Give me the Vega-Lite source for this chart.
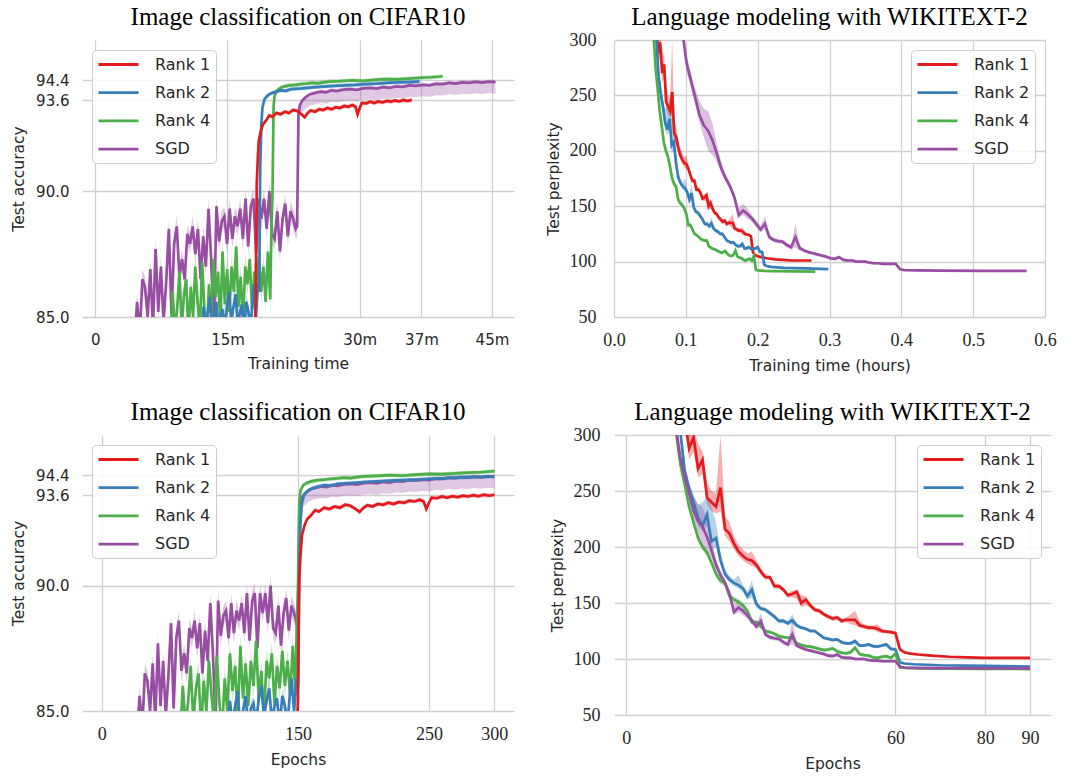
{
"$schema": "https://vega.github.io/schema/vega-lite/v6.json",
"background": "white",
"padding": {"left": 11, "top": 5, "right": 0, "bottom": 0},
"config": {
 "view": {"stroke": null},
 "axis": {"grid": true, "gridColor": "#d0d0d0", "gridWidth": 1.3, "domain": false, "ticks": false, "labelFont": "DejaVu Sans", "labelFontSize": 15, "labelColor": "#262626", "titleFont": "DejaVu Sans", "titleFontSize": 15.5, "titleFontWeight": "normal", "titleColor": "#262626", "labelFlush": false, "labelOverlap": false},
 "title": {"font": "Liberation Serif", "fontSize": 25, "fontWeight": "normal", "color": "#000000", "anchor": "middle", "frame": "group"},
 "legend": {"offset": 10, "symbolType": "M-1,0H4", "symbolSize": 256, "symbolStrokeWidth": 2.8, "labelFont": "DejaVu Sans", "labelFontSize": 16, "labelColor": "#262626", "labelOffset": 39, "padding": 5, "rowPadding": 10.2, "strokeColor": "#cccccc", "fillColor": "rgba(255,255,255,0.85)", "cornerRadius": 4}
},
"datasets": {
"acc": [
{"s":"SGD","e":27,"t":4.45,"y":84.0,"lo":83.6,"hi":84.4},
{"s":"SGD","e":29,"t":4.75,"y":85.6,"lo":85.2,"hi":86.0},
{"s":"SGD","e":31,"t":5.05,"y":84.3,"lo":83.9,"hi":84.7},
{"s":"SGD","e":33,"t":5.35,"y":86.5,"lo":86.1,"hi":86.9},
{"s":"SGD","e":35,"t":5.65,"y":86.2,"lo":85.8,"hi":86.6},
{"s":"SGD","e":37,"t":5.95,"y":85.0,"lo":84.6,"hi":85.4},
{"s":"SGD","e":39,"t":6.25,"y":86.9,"lo":86.5,"hi":87.3},
{"s":"SGD","e":41,"t":6.55,"y":84.6,"lo":84.2,"hi":85.0},
{"s":"SGD","e":43,"t":6.85,"y":87.7,"lo":87.3,"hi":88.1},
{"s":"SGD","e":45,"t":7.15,"y":85.2,"lo":84.8,"hi":85.6},
{"s":"SGD","e":47,"t":7.45,"y":87.0,"lo":86.6,"hi":87.4},
{"s":"SGD","e":49,"t":7.75,"y":84.8,"lo":84.4,"hi":85.2},
{"s":"SGD","e":51,"t":8.05,"y":86.4,"lo":86.0,"hi":86.8},
{"s":"SGD","e":53,"t":8.35,"y":88.5,"lo":88.1,"hi":88.9},
{"s":"SGD","e":55,"t":8.65,"y":85.1,"lo":84.7,"hi":85.5},
{"s":"SGD","e":57,"t":8.95,"y":87.9,"lo":87.5,"hi":88.3},
{"s":"SGD","e":59,"t":9.25,"y":88.6,"lo":88.2,"hi":89.0},
{"s":"SGD","e":61,"t":9.55,"y":86.6,"lo":86.2,"hi":87.0},
{"s":"SGD","e":63,"t":9.85,"y":87.3,"lo":86.9,"hi":87.7},
{"s":"SGD","e":65,"t":10.15,"y":86.5,"lo":86.1,"hi":86.9},
{"s":"SGD","e":67,"t":10.45,"y":88.3,"lo":87.9,"hi":88.7},
{"s":"SGD","e":69,"t":10.75,"y":87.9,"lo":87.5,"hi":88.3},
{"s":"SGD","e":71,"t":11.05,"y":88.6,"lo":88.2,"hi":89.0},
{"s":"SGD","e":73,"t":11.35,"y":87.5,"lo":87.1,"hi":87.9},
{"s":"SGD","e":75,"t":11.65,"y":88.5,"lo":88.1,"hi":88.9},
{"s":"SGD","e":77,"t":11.95,"y":86.5,"lo":86.1,"hi":86.9},
{"s":"SGD","e":79,"t":12.25,"y":88.2,"lo":87.8,"hi":88.6},
{"s":"SGD","e":81,"t":12.55,"y":87.0,"lo":86.6,"hi":87.4},
{"s":"SGD","e":83,"t":12.85,"y":89.3,"lo":88.9,"hi":89.7},
{"s":"SGD","e":85,"t":13.15,"y":87.3,"lo":86.9,"hi":87.7},
{"s":"SGD","e":87,"t":13.45,"y":84.5,"lo":84.1,"hi":84.9},
{"s":"SGD","e":89,"t":13.75,"y":89.4,"lo":89.0,"hi":89.8},
{"s":"SGD","e":91,"t":14.05,"y":88.0,"lo":87.6,"hi":88.4},
{"s":"SGD","e":93,"t":14.35,"y":88.8,"lo":88.4,"hi":89.2},
{"s":"SGD","e":95,"t":14.65,"y":89.0,"lo":88.6,"hi":89.4},
{"s":"SGD","e":97,"t":14.95,"y":87.9,"lo":87.5,"hi":88.3},
{"s":"SGD","e":99,"t":15.25,"y":89.3,"lo":88.9,"hi":89.7},
{"s":"SGD","e":101,"t":15.55,"y":88.1,"lo":87.7,"hi":88.5},
{"s":"SGD","e":103,"t":15.85,"y":89.0,"lo":88.6,"hi":89.4},
{"s":"SGD","e":105,"t":16.15,"y":88.6,"lo":88.2,"hi":89.0},
{"s":"SGD","e":107,"t":16.45,"y":89.3,"lo":88.9,"hi":89.7},
{"s":"SGD","e":109,"t":16.75,"y":88.1,"lo":87.7,"hi":88.5},
{"s":"SGD","e":111,"t":17.05,"y":89.7,"lo":89.3,"hi":90.1},
{"s":"SGD","e":113,"t":17.35,"y":87.8,"lo":87.4,"hi":88.2},
{"s":"SGD","e":115,"t":17.65,"y":89.4,"lo":89.0,"hi":89.8},
{"s":"SGD","e":117,"t":17.95,"y":89.7,"lo":89.3,"hi":90.1},
{"s":"SGD","e":119,"t":18.25,"y":87.5,"lo":87.1,"hi":87.9},
{"s":"SGD","e":121,"t":18.55,"y":89.7,"lo":89.3,"hi":90.1},
{"s":"SGD","e":123,"t":18.85,"y":88.9,"lo":88.5,"hi":89.3},
{"s":"SGD","e":125,"t":19.15,"y":89.7,"lo":89.3,"hi":90.1},
{"s":"SGD","e":127,"t":19.45,"y":88.5,"lo":88.1,"hi":88.9},
{"s":"SGD","e":129,"t":19.75,"y":90.0,"lo":89.6,"hi":90.4},
{"s":"SGD","e":131,"t":20.05,"y":88.3,"lo":87.9,"hi":88.7},
{"s":"SGD","e":133,"t":20.35,"y":88.1,"lo":87.7,"hi":88.5},
{"s":"SGD","e":135,"t":20.65,"y":89.2,"lo":88.8,"hi":89.6},
{"s":"SGD","e":137,"t":20.95,"y":87.6,"lo":87.2,"hi":88.0},
{"s":"SGD","e":139,"t":21.25,"y":88.9,"lo":88.5,"hi":89.3},
{"s":"SGD","e":141,"t":21.55,"y":89.5,"lo":89.1,"hi":89.9},
{"s":"SGD","e":143,"t":21.85,"y":88.2,"lo":87.8,"hi":88.6},
{"s":"SGD","e":145,"t":22.15,"y":89.2,"lo":88.8,"hi":89.6},
{"s":"SGD","e":147,"t":22.45,"y":88.9,"lo":88.5,"hi":89.3},
{"s":"SGD","e":149,"t":22.75,"y":88.5,"lo":88.1,"hi":88.9},
{"s":"SGD","e":150,"t":22.9,"y":88.6,"lo":88.2,"hi":89.0},
{"s":"SGD","e":151,"t":23.05,"y":93.0,"lo":92.6,"hi":93.1},
{"s":"SGD","e":152,"t":23.2,"y":93.4,"lo":93.0,"hi":93.5},
{"s":"SGD","e":154,"t":23.5,"y":93.6,"lo":93.15,"hi":93.68},
{"s":"SGD","e":157,"t":23.95,"y":93.75,"lo":93.3,"hi":93.83},
{"s":"SGD","e":160,"t":24.4,"y":93.85,"lo":93.4,"hi":93.93},
{"s":"SGD","e":164,"t":25.0,"y":93.9,"lo":93.45,"hi":93.98},
{"s":"SGD","e":168,"t":25.6,"y":93.95,"lo":93.5,"hi":94.03},
{"s":"SGD","e":172,"t":26.2,"y":93.92,"lo":93.47,"hi":94.0},
{"s":"SGD","e":176,"t":26.8,"y":94.0,"lo":93.55,"hi":94.08},
{"s":"SGD","e":180,"t":27.4,"y":93.97,"lo":93.52,"hi":94.05},
{"s":"SGD","e":185,"t":28.15,"y":94.03,"lo":93.58,"hi":94.11},
{"s":"SGD","e":190,"t":28.9,"y":94.05,"lo":93.6,"hi":94.13},
{"s":"SGD","e":195,"t":29.65,"y":94.02,"lo":93.57,"hi":94.1},
{"s":"SGD","e":200,"t":30.4,"y":94.08,"lo":93.63,"hi":94.16},
{"s":"SGD","e":205,"t":31.15,"y":94.1,"lo":93.65,"hi":94.18},
{"s":"SGD","e":210,"t":31.9,"y":94.07,"lo":93.62,"hi":94.15},
{"s":"SGD","e":215,"t":32.65,"y":94.13,"lo":93.68,"hi":94.21},
{"s":"SGD","e":220,"t":33.4,"y":94.1,"lo":93.65,"hi":94.18},
{"s":"SGD","e":225,"t":34.15,"y":94.16,"lo":93.71,"hi":94.24},
{"s":"SGD","e":230,"t":34.9,"y":94.14,"lo":93.69,"hi":94.22},
{"s":"SGD","e":235,"t":35.65,"y":94.2,"lo":93.75,"hi":94.28},
{"s":"SGD","e":240,"t":36.4,"y":94.18,"lo":93.73,"hi":94.26},
{"s":"SGD","e":245,"t":37.15,"y":94.22,"lo":93.77,"hi":94.3},
{"s":"SGD","e":250,"t":37.9,"y":94.2,"lo":93.75,"hi":94.28},
{"s":"SGD","e":255,"t":38.65,"y":94.26,"lo":93.81,"hi":94.34},
{"s":"SGD","e":260,"t":39.4,"y":94.25,"lo":93.8,"hi":94.33},
{"s":"SGD","e":265,"t":40.15,"y":94.3,"lo":93.85,"hi":94.38},
{"s":"SGD","e":270,"t":40.9,"y":94.27,"lo":93.82,"hi":94.35},
{"s":"SGD","e":275,"t":41.65,"y":94.32,"lo":93.87,"hi":94.4},
{"s":"SGD","e":280,"t":42.4,"y":94.3,"lo":93.85,"hi":94.38},
{"s":"SGD","e":285,"t":43.15,"y":94.34,"lo":93.89,"hi":94.42},
{"s":"SGD","e":290,"t":43.9,"y":94.31,"lo":93.86,"hi":94.39},
{"s":"SGD","e":295,"t":44.65,"y":94.35,"lo":93.9,"hi":94.43},
{"s":"SGD","e":300,"t":45.4,"y":94.33,"lo":93.88,"hi":94.41},
{"s":"Rank 4","e":60,"t":8.52,"y":84.0,"lo":83.55,"hi":84.45},
{"s":"Rank 4","e":62,"t":8.78,"y":86.0,"lo":85.55,"hi":86.45},
{"s":"Rank 4","e":64,"t":9.04,"y":84.5,"lo":84.05,"hi":84.95},
{"s":"Rank 4","e":66,"t":9.29,"y":85.3,"lo":84.85,"hi":85.75},
{"s":"Rank 4","e":68,"t":9.55,"y":86.8,"lo":86.35,"hi":87.25},
{"s":"Rank 4","e":70,"t":9.81,"y":84.6,"lo":84.15,"hi":85.05},
{"s":"Rank 4","e":72,"t":10.07,"y":85.9,"lo":85.45,"hi":86.35},
{"s":"Rank 4","e":74,"t":10.32,"y":86.5,"lo":86.05,"hi":86.95},
{"s":"Rank 4","e":76,"t":10.58,"y":84.3,"lo":83.85,"hi":84.75},
{"s":"Rank 4","e":78,"t":10.84,"y":86.2,"lo":85.75,"hi":86.65},
{"s":"Rank 4","e":80,"t":11.1,"y":85.0,"lo":84.55,"hi":85.45},
{"s":"Rank 4","e":82,"t":11.35,"y":87.0,"lo":86.55,"hi":87.45},
{"s":"Rank 4","e":84,"t":11.61,"y":85.6,"lo":85.15,"hi":86.05},
{"s":"Rank 4","e":86,"t":11.87,"y":84.5,"lo":84.05,"hi":84.95},
{"s":"Rank 4","e":88,"t":12.13,"y":87.2,"lo":86.75,"hi":87.65},
{"s":"Rank 4","e":90,"t":12.38,"y":85.3,"lo":84.85,"hi":85.75},
{"s":"Rank 4","e":92,"t":12.64,"y":84.2,"lo":83.75,"hi":84.65},
{"s":"Rank 4","e":94,"t":12.9,"y":86.3,"lo":85.85,"hi":86.75},
{"s":"Rank 4","e":96,"t":13.16,"y":85.0,"lo":84.55,"hi":85.45},
{"s":"Rank 4","e":98,"t":13.41,"y":87.3,"lo":86.85,"hi":87.75},
{"s":"Rank 4","e":100,"t":13.67,"y":85.8,"lo":85.35,"hi":86.25},
{"s":"Rank 4","e":102,"t":13.93,"y":86.8,"lo":86.35,"hi":87.25},
{"s":"Rank 4","e":104,"t":14.18,"y":84.7,"lo":84.25,"hi":85.15},
{"s":"Rank 4","e":106,"t":14.44,"y":87.6,"lo":87.15,"hi":88.05},
{"s":"Rank 4","e":108,"t":14.7,"y":85.5,"lo":85.05,"hi":85.95},
{"s":"Rank 4","e":110,"t":14.96,"y":86.9,"lo":86.45,"hi":87.35},
{"s":"Rank 4","e":112,"t":15.21,"y":85.2,"lo":84.75,"hi":85.65},
{"s":"Rank 4","e":114,"t":15.47,"y":87.0,"lo":86.55,"hi":87.45},
{"s":"Rank 4","e":116,"t":15.73,"y":86.0,"lo":85.55,"hi":86.45},
{"s":"Rank 4","e":118,"t":15.99,"y":87.8,"lo":87.35,"hi":88.25},
{"s":"Rank 4","e":120,"t":16.24,"y":85.4,"lo":84.95,"hi":85.85},
{"s":"Rank 4","e":122,"t":16.5,"y":86.6,"lo":86.15,"hi":87.05},
{"s":"Rank 4","e":124,"t":16.76,"y":84.8,"lo":84.35,"hi":85.25},
{"s":"Rank 4","e":126,"t":17.02,"y":87.0,"lo":86.55,"hi":87.45},
{"s":"Rank 4","e":128,"t":17.27,"y":86.3,"lo":85.85,"hi":86.75},
{"s":"Rank 4","e":130,"t":17.53,"y":87.3,"lo":86.85,"hi":87.75},
{"s":"Rank 4","e":132,"t":17.79,"y":85.3,"lo":84.85,"hi":85.75},
{"s":"Rank 4","e":134,"t":18.05,"y":86.8,"lo":86.35,"hi":87.25},
{"s":"Rank 4","e":136,"t":18.3,"y":85.9,"lo":85.45,"hi":86.35},
{"s":"Rank 4","e":138,"t":18.56,"y":87.4,"lo":86.95,"hi":87.85},
{"s":"Rank 4","e":140,"t":18.82,"y":86.0,"lo":85.55,"hi":86.45},
{"s":"Rank 4","e":142,"t":19.08,"y":87.0,"lo":86.55,"hi":87.45},
{"s":"Rank 4","e":144,"t":19.33,"y":85.6,"lo":85.15,"hi":86.05},
{"s":"Rank 4","e":146,"t":19.59,"y":87.6,"lo":87.15,"hi":88.05},
{"s":"Rank 4","e":148,"t":19.85,"y":85.7,"lo":85.25,"hi":86.15},
{"s":"Rank 4","e":149,"t":19.98,"y":88.3,"lo":87.85,"hi":88.75},
{"s":"Rank 4","e":150,"t":20.11,"y":90.0,"lo":89.6,"hi":90.4},
{"s":"Rank 4","e":151,"t":20.23,"y":93.4,"lo":93.32,"hi":93.48},
{"s":"Rank 4","e":152,"t":20.36,"y":93.8,"lo":93.72,"hi":93.88},
{"s":"Rank 4","e":154,"t":20.62,"y":94.0,"lo":93.92,"hi":94.08},
{"s":"Rank 4","e":157,"t":21.01,"y":94.1,"lo":94.02,"hi":94.18},
{"s":"Rank 4","e":160,"t":21.39,"y":94.15,"lo":94.07,"hi":94.23},
{"s":"Rank 4","e":165,"t":22.04,"y":94.2,"lo":94.12,"hi":94.28},
{"s":"Rank 4","e":170,"t":22.68,"y":94.22,"lo":94.14,"hi":94.3},
{"s":"Rank 4","e":175,"t":23.32,"y":94.25,"lo":94.17,"hi":94.33},
{"s":"Rank 4","e":180,"t":23.97,"y":94.27,"lo":94.19,"hi":94.35},
{"s":"Rank 4","e":185,"t":24.61,"y":94.3,"lo":94.22,"hi":94.38},
{"s":"Rank 4","e":190,"t":25.25,"y":94.28,"lo":94.2,"hi":94.36},
{"s":"Rank 4","e":195,"t":25.9,"y":94.32,"lo":94.24,"hi":94.4},
{"s":"Rank 4","e":200,"t":26.54,"y":94.35,"lo":94.27,"hi":94.43},
{"s":"Rank 4","e":210,"t":27.83,"y":94.37,"lo":94.29,"hi":94.45},
{"s":"Rank 4","e":220,"t":29.11,"y":94.4,"lo":94.32,"hi":94.48},
{"s":"Rank 4","e":230,"t":30.4,"y":94.38,"lo":94.3,"hi":94.46},
{"s":"Rank 4","e":240,"t":31.69,"y":94.42,"lo":94.34,"hi":94.5},
{"s":"Rank 4","e":250,"t":32.98,"y":94.45,"lo":94.37,"hi":94.53},
{"s":"Rank 4","e":260,"t":34.26,"y":94.44,"lo":94.36,"hi":94.52},
{"s":"Rank 4","e":270,"t":35.55,"y":94.47,"lo":94.39,"hi":94.55},
{"s":"Rank 4","e":280,"t":36.84,"y":94.5,"lo":94.42,"hi":94.58},
{"s":"Rank 4","e":290,"t":38.12,"y":94.52,"lo":94.44,"hi":94.6},
{"s":"Rank 4","e":300,"t":39.41,"y":94.56,"lo":94.48,"hi":94.64},
{"s":"Rank 2","e":96,"t":12.04,"y":84.0,"lo":83.7,"hi":84.3},
{"s":"Rank 2","e":98,"t":12.29,"y":85.4,"lo":85.1,"hi":85.7},
{"s":"Rank 2","e":100,"t":12.53,"y":84.5,"lo":84.2,"hi":84.8},
{"s":"Rank 2","e":102,"t":12.77,"y":85.2,"lo":84.9,"hi":85.5},
{"s":"Rank 2","e":104,"t":13.02,"y":85.8,"lo":85.5,"hi":86.1},
{"s":"Rank 2","e":106,"t":13.26,"y":84.2,"lo":83.9,"hi":84.5},
{"s":"Rank 2","e":108,"t":13.5,"y":85.0,"lo":84.7,"hi":85.3},
{"s":"Rank 2","e":110,"t":13.74,"y":85.6,"lo":85.3,"hi":85.9},
{"s":"Rank 2","e":112,"t":13.99,"y":84.3,"lo":84.0,"hi":84.6},
{"s":"Rank 2","e":114,"t":14.23,"y":85.1,"lo":84.8,"hi":85.4},
{"s":"Rank 2","e":116,"t":14.47,"y":85.3,"lo":85.0,"hi":85.6},
{"s":"Rank 2","e":118,"t":14.71,"y":84.5,"lo":84.2,"hi":84.8},
{"s":"Rank 2","e":120,"t":14.96,"y":85.5,"lo":85.2,"hi":85.8},
{"s":"Rank 2","e":122,"t":15.2,"y":86.0,"lo":85.7,"hi":86.3},
{"s":"Rank 2","e":124,"t":15.44,"y":84.8,"lo":84.5,"hi":85.1},
{"s":"Rank 2","e":126,"t":15.68,"y":85.4,"lo":85.1,"hi":85.7},
{"s":"Rank 2","e":128,"t":15.93,"y":85.9,"lo":85.6,"hi":86.2},
{"s":"Rank 2","e":130,"t":16.17,"y":84.6,"lo":84.3,"hi":84.9},
{"s":"Rank 2","e":132,"t":16.41,"y":85.2,"lo":84.9,"hi":85.5},
{"s":"Rank 2","e":134,"t":16.65,"y":85.5,"lo":85.2,"hi":85.8},
{"s":"Rank 2","e":136,"t":16.9,"y":84.4,"lo":84.1,"hi":84.7},
{"s":"Rank 2","e":138,"t":17.14,"y":85.6,"lo":85.3,"hi":85.9},
{"s":"Rank 2","e":140,"t":17.38,"y":85.2,"lo":84.9,"hi":85.5},
{"s":"Rank 2","e":142,"t":17.62,"y":84.5,"lo":84.2,"hi":84.8},
{"s":"Rank 2","e":144,"t":17.87,"y":85.8,"lo":85.5,"hi":86.1},
{"s":"Rank 2","e":145,"t":17.99,"y":86.3,"lo":86.0,"hi":86.6},
{"s":"Rank 2","e":147,"t":18.23,"y":85.0,"lo":84.7,"hi":85.3},
{"s":"Rank 2","e":149,"t":18.47,"y":86.3,"lo":86.0,"hi":86.6},
{"s":"Rank 2","e":150,"t":18.6,"y":86.0,"lo":85.7,"hi":86.3},
{"s":"Rank 2","e":151,"t":18.72,"y":91.0,"lo":90.92,"hi":91.08},
{"s":"Rank 2","e":152,"t":18.84,"y":92.6,"lo":92.52,"hi":92.68},
{"s":"Rank 2","e":153,"t":18.96,"y":93.3,"lo":93.22,"hi":93.38},
{"s":"Rank 2","e":155,"t":19.2,"y":93.65,"lo":93.57,"hi":93.73},
{"s":"Rank 2","e":158,"t":19.57,"y":93.8,"lo":93.72,"hi":93.88},
{"s":"Rank 2","e":162,"t":20.05,"y":93.9,"lo":93.82,"hi":93.98},
{"s":"Rank 2","e":166,"t":20.54,"y":93.95,"lo":93.87,"hi":94.03},
{"s":"Rank 2","e":170,"t":21.02,"y":94.0,"lo":93.92,"hi":94.08},
{"s":"Rank 2","e":175,"t":21.63,"y":93.98,"lo":93.9,"hi":94.06},
{"s":"Rank 2","e":180,"t":22.23,"y":94.05,"lo":93.97,"hi":94.13},
{"s":"Rank 2","e":190,"t":23.45,"y":94.08,"lo":94.0,"hi":94.16},
{"s":"Rank 2","e":200,"t":24.66,"y":94.12,"lo":94.04,"hi":94.2},
{"s":"Rank 2","e":210,"t":25.87,"y":94.15,"lo":94.07,"hi":94.23},
{"s":"Rank 2","e":220,"t":27.09,"y":94.18,"lo":94.1,"hi":94.26},
{"s":"Rank 2","e":230,"t":28.3,"y":94.2,"lo":94.12,"hi":94.28},
{"s":"Rank 2","e":240,"t":29.51,"y":94.22,"lo":94.14,"hi":94.3},
{"s":"Rank 2","e":250,"t":30.73,"y":94.25,"lo":94.17,"hi":94.33},
{"s":"Rank 2","e":260,"t":31.94,"y":94.27,"lo":94.19,"hi":94.35},
{"s":"Rank 2","e":270,"t":33.15,"y":94.3,"lo":94.22,"hi":94.38},
{"s":"Rank 2","e":280,"t":34.36,"y":94.32,"lo":94.24,"hi":94.4},
{"s":"Rank 2","e":290,"t":35.58,"y":94.33,"lo":94.25,"hi":94.41},
{"s":"Rank 2","e":300,"t":36.79,"y":94.35,"lo":94.27,"hi":94.43},
{"s":"Rank 1","e":149,"t":18.08,"y":84.0,"lo":84.0,"hi":84.0},
{"s":"Rank 1","e":150,"t":18.2,"y":85.5,"lo":85.5,"hi":85.5},
{"s":"Rank 1","e":151,"t":18.32,"y":90.3,"lo":90.22,"hi":90.38},
{"s":"Rank 1","e":152,"t":18.44,"y":91.3,"lo":91.22,"hi":91.38},
{"s":"Rank 1","e":153,"t":18.55,"y":92.0,"lo":91.92,"hi":92.08},
{"s":"Rank 1","e":155,"t":18.79,"y":92.4,"lo":92.32,"hi":92.48},
{"s":"Rank 1","e":157,"t":19.03,"y":92.65,"lo":92.57,"hi":92.73},
{"s":"Rank 1","e":160,"t":19.38,"y":92.8,"lo":92.72,"hi":92.88},
{"s":"Rank 1","e":163,"t":19.73,"y":93.0,"lo":92.92,"hi":93.08},
{"s":"Rank 1","e":166,"t":20.09,"y":92.95,"lo":92.87,"hi":93.03},
{"s":"Rank 1","e":170,"t":20.56,"y":93.1,"lo":93.02,"hi":93.18},
{"s":"Rank 1","e":174,"t":21.03,"y":93.05,"lo":92.97,"hi":93.13},
{"s":"Rank 1","e":178,"t":21.5,"y":93.15,"lo":93.07,"hi":93.23},
{"s":"Rank 1","e":182,"t":21.98,"y":93.1,"lo":93.02,"hi":93.18},
{"s":"Rank 1","e":186,"t":22.45,"y":93.22,"lo":93.14,"hi":93.3},
{"s":"Rank 1","e":190,"t":22.92,"y":93.18,"lo":93.1,"hi":93.26},
{"s":"Rank 1","e":194,"t":23.39,"y":93.05,"lo":92.97,"hi":93.13},
{"s":"Rank 1","e":197,"t":23.75,"y":92.93,"lo":92.85,"hi":93.01},
{"s":"Rank 1","e":200,"t":24.1,"y":93.1,"lo":93.02,"hi":93.18},
{"s":"Rank 1","e":203,"t":24.45,"y":93.2,"lo":93.12,"hi":93.28},
{"s":"Rank 1","e":207,"t":24.93,"y":93.15,"lo":93.07,"hi":93.23},
{"s":"Rank 1","e":211,"t":25.4,"y":93.25,"lo":93.17,"hi":93.33},
{"s":"Rank 1","e":215,"t":25.87,"y":93.22,"lo":93.14,"hi":93.3},
{"s":"Rank 1","e":219,"t":26.34,"y":93.3,"lo":93.22,"hi":93.38},
{"s":"Rank 1","e":223,"t":26.81,"y":93.25,"lo":93.17,"hi":93.33},
{"s":"Rank 1","e":227,"t":27.29,"y":93.33,"lo":93.25,"hi":93.41},
{"s":"Rank 1","e":231,"t":27.76,"y":93.3,"lo":93.22,"hi":93.38},
{"s":"Rank 1","e":235,"t":28.23,"y":93.38,"lo":93.3,"hi":93.46},
{"s":"Rank 1","e":239,"t":28.7,"y":93.35,"lo":93.27,"hi":93.43},
{"s":"Rank 1","e":243,"t":29.17,"y":93.42,"lo":93.34,"hi":93.5},
{"s":"Rank 1","e":246,"t":29.53,"y":93.35,"lo":93.27,"hi":93.43},
{"s":"Rank 1","e":248,"t":29.76,"y":93.05,"lo":92.97,"hi":93.13},
{"s":"Rank 1","e":250,"t":30.0,"y":93.3,"lo":93.22,"hi":93.38},
{"s":"Rank 1","e":252,"t":30.24,"y":93.5,"lo":93.42,"hi":93.58},
{"s":"Rank 1","e":256,"t":30.71,"y":93.48,"lo":93.4,"hi":93.56},
{"s":"Rank 1","e":260,"t":31.18,"y":93.55,"lo":93.47,"hi":93.63},
{"s":"Rank 1","e":264,"t":31.65,"y":93.5,"lo":93.42,"hi":93.58},
{"s":"Rank 1","e":268,"t":32.12,"y":93.56,"lo":93.48,"hi":93.64},
{"s":"Rank 1","e":272,"t":32.6,"y":93.52,"lo":93.44,"hi":93.6},
{"s":"Rank 1","e":276,"t":33.07,"y":93.58,"lo":93.5,"hi":93.66},
{"s":"Rank 1","e":280,"t":33.54,"y":93.55,"lo":93.47,"hi":93.63},
{"s":"Rank 1","e":284,"t":34.01,"y":93.6,"lo":93.52,"hi":93.68},
{"s":"Rank 1","e":288,"t":34.48,"y":93.56,"lo":93.48,"hi":93.64},
{"s":"Rank 1","e":292,"t":34.96,"y":93.62,"lo":93.54,"hi":93.7},
{"s":"Rank 1","e":296,"t":35.43,"y":93.58,"lo":93.5,"hi":93.66},
{"s":"Rank 1","e":300,"t":35.9,"y":93.62,"lo":93.54,"hi":93.7}
],
"ppl": [
{"s":"Rank 1","e":13,"t":0.0585,"y":315,"lo":315,"hi":315},
{"s":"Rank 1","e":14,"t":0.0613,"y":288,"lo":278,"hi":300},
{"s":"Rank 1","e":15,"t":0.0642,"y":298,"lo":285,"hi":305},
{"s":"Rank 1","e":16,"t":0.067,"y":270,"lo":262,"hi":292},
{"s":"Rank 1","e":17,"t":0.0698,"y":278,"lo":265,"hi":285},
{"s":"Rank 1","e":18,"t":0.0726,"y":244,"lo":238,"hi":258},
{"s":"Rank 1","e":19,"t":0.0754,"y":240,"lo":232,"hi":250},
{"s":"Rank 1","e":20,"t":0.0782,"y":236,"lo":230,"hi":248},
{"s":"Rank 1","e":21,"t":0.081,"y":253,"lo":232,"hi":300},
{"s":"Rank 1","e":22,"t":0.0838,"y":216,"lo":210,"hi":228},
{"s":"Rank 1","e":23,"t":0.0866,"y":212,"lo":205,"hi":222},
{"s":"Rank 1","e":24,"t":0.0894,"y":203,"lo":198,"hi":210},
{"s":"Rank 1","e":25,"t":0.0923,"y":196,"lo":192,"hi":202},
{"s":"Rank 1","e":26,"t":0.0951,"y":192,"lo":188,"hi":198},
{"s":"Rank 1","e":27,"t":0.0979,"y":189,"lo":185,"hi":194},
{"s":"Rank 1","e":28,"t":0.1007,"y":188,"lo":183,"hi":196},
{"s":"Rank 1","e":29,"t":0.1035,"y":184,"lo":181,"hi":188},
{"s":"Rank 1","e":30,"t":0.1063,"y":178,"lo":175,"hi":181},
{"s":"Rank 1","e":31,"t":0.1091,"y":173,"lo":171,"hi":176},
{"s":"Rank 1","e":32,"t":0.1119,"y":173,"lo":171,"hi":175},
{"s":"Rank 1","e":33,"t":0.1147,"y":165,"lo":163,"hi":168},
{"s":"Rank 1","e":34,"t":0.1175,"y":165,"lo":163,"hi":167},
{"s":"Rank 1","e":35,"t":0.1204,"y":162,"lo":160,"hi":164},
{"s":"Rank 1","e":36,"t":0.1232,"y":157,"lo":155,"hi":159},
{"s":"Rank 1","e":37,"t":0.126,"y":158,"lo":155,"hi":161},
{"s":"Rank 1","e":38,"t":0.1288,"y":160,"lo":154,"hi":162},
{"s":"Rank 1","e":39,"t":0.1316,"y":150,"lo":146,"hi":157},
{"s":"Rank 1","e":40,"t":0.1344,"y":153,"lo":148,"hi":156},
{"s":"Rank 1","e":41,"t":0.1372,"y":148,"lo":146,"hi":150},
{"s":"Rank 1","e":42,"t":0.14,"y":144,"lo":142,"hi":146},
{"s":"Rank 1","e":43,"t":0.1428,"y":143,"lo":141,"hi":145},
{"s":"Rank 1","e":44,"t":0.1456,"y":140,"lo":138,"hi":142},
{"s":"Rank 1","e":45,"t":0.1485,"y":138,"lo":136,"hi":140},
{"s":"Rank 1","e":46,"t":0.1513,"y":136,"lo":134,"hi":138},
{"s":"Rank 1","e":47,"t":0.1541,"y":137,"lo":135,"hi":139},
{"s":"Rank 1","e":48,"t":0.1569,"y":134,"lo":132,"hi":136},
{"s":"Rank 1","e":49,"t":0.1597,"y":135,"lo":133,"hi":137},
{"s":"Rank 1","e":50,"t":0.1625,"y":135,"lo":131,"hi":140},
{"s":"Rank 1","e":51,"t":0.1653,"y":135,"lo":130,"hi":143},
{"s":"Rank 1","e":52,"t":0.1681,"y":130,"lo":128,"hi":134},
{"s":"Rank 1","e":53,"t":0.1709,"y":129,"lo":127,"hi":131},
{"s":"Rank 1","e":54,"t":0.1737,"y":128,"lo":126,"hi":130},
{"s":"Rank 1","e":55,"t":0.1766,"y":128,"lo":126,"hi":130},
{"s":"Rank 1","e":56,"t":0.1794,"y":127,"lo":124,"hi":131},
{"s":"Rank 1","e":57,"t":0.1822,"y":125,"lo":123,"hi":127},
{"s":"Rank 1","e":58,"t":0.185,"y":124.5,"lo":123,"hi":126},
{"s":"Rank 1","e":59,"t":0.1878,"y":124,"lo":122.5,"hi":125.5},
{"s":"Rank 1","e":60,"t":0.1906,"y":123,"lo":121.5,"hi":124.5},
{"s":"Rank 1","e":61,"t":0.1934,"y":108.5,"lo":107.5,"hi":109.5},
{"s":"Rank 1","e":62,"t":0.1962,"y":106,"lo":105,"hi":107},
{"s":"Rank 1","e":63,"t":0.199,"y":105,"lo":104.2,"hi":105.8},
{"s":"Rank 1","e":65,"t":0.2047,"y":104,"lo":103.3,"hi":104.7},
{"s":"Rank 1","e":68,"t":0.2131,"y":103,"lo":102.4,"hi":103.6},
{"s":"Rank 1","e":72,"t":0.2243,"y":102,"lo":101.5,"hi":102.5},
{"s":"Rank 1","e":76,"t":0.2356,"y":101.5,"lo":101,"hi":102},
{"s":"Rank 1","e":80,"t":0.2468,"y":101,"lo":100.5,"hi":101.5},
{"s":"Rank 1","e":85,"t":0.2609,"y":101,"lo":100.5,"hi":101.5},
{"s":"Rank 1","e":90,"t":0.2749,"y":101,"lo":100.5,"hi":101.5},
{"s":"Rank 2","e":12,"t":0.0588,"y":305,"lo":305,"hi":305},
{"s":"Rank 2","e":13,"t":0.0619,"y":268,"lo":262,"hi":276},
{"s":"Rank 2","e":14,"t":0.065,"y":252,"lo":246,"hi":258},
{"s":"Rank 2","e":15,"t":0.0681,"y":240,"lo":232,"hi":246},
{"s":"Rank 2","e":16,"t":0.0711,"y":226,"lo":218,"hi":238},
{"s":"Rank 2","e":17,"t":0.0742,"y":219,"lo":214,"hi":240},
{"s":"Rank 2","e":18,"t":0.0773,"y":229,"lo":218,"hi":245},
{"s":"Rank 2","e":19,"t":0.0803,"y":205,"lo":198,"hi":236},
{"s":"Rank 2","e":20,"t":0.0834,"y":208,"lo":200,"hi":222},
{"s":"Rank 2","e":21,"t":0.0865,"y":188,"lo":184,"hi":196},
{"s":"Rank 2","e":22,"t":0.0895,"y":176,"lo":173,"hi":180},
{"s":"Rank 2","e":23,"t":0.0926,"y":171,"lo":168,"hi":174},
{"s":"Rank 2","e":24,"t":0.0957,"y":168,"lo":165,"hi":171},
{"s":"Rank 2","e":25,"t":0.0988,"y":166,"lo":163,"hi":175},
{"s":"Rank 2","e":26,"t":0.1018,"y":163,"lo":160,"hi":166},
{"s":"Rank 2","e":27,"t":0.1049,"y":156,"lo":153,"hi":160},
{"s":"Rank 2","e":28,"t":0.108,"y":162,"lo":155,"hi":170},
{"s":"Rank 2","e":29,"t":0.111,"y":149,"lo":146,"hi":152},
{"s":"Rank 2","e":30,"t":0.1141,"y":145,"lo":143,"hi":147},
{"s":"Rank 2","e":31,"t":0.1172,"y":144,"lo":142,"hi":146},
{"s":"Rank 2","e":32,"t":0.1202,"y":141,"lo":139,"hi":143},
{"s":"Rank 2","e":33,"t":0.1233,"y":138,"lo":136,"hi":140},
{"s":"Rank 2","e":34,"t":0.1264,"y":134,"lo":132,"hi":136},
{"s":"Rank 2","e":35,"t":0.1295,"y":134,"lo":132,"hi":136},
{"s":"Rank 2","e":36,"t":0.1325,"y":132,"lo":130,"hi":134},
{"s":"Rank 2","e":37,"t":0.1356,"y":134.5,"lo":131,"hi":140},
{"s":"Rank 2","e":38,"t":0.1387,"y":130,"lo":128,"hi":132},
{"s":"Rank 2","e":39,"t":0.1417,"y":128,"lo":126.5,"hi":129.5},
{"s":"Rank 2","e":40,"t":0.1448,"y":127,"lo":125.5,"hi":128.5},
{"s":"Rank 2","e":41,"t":0.1479,"y":125,"lo":123.5,"hi":126.5},
{"s":"Rank 2","e":42,"t":0.1509,"y":125,"lo":123.5,"hi":126.5},
{"s":"Rank 2","e":43,"t":0.154,"y":122,"lo":120.5,"hi":123.5},
{"s":"Rank 2","e":44,"t":0.1571,"y":119,"lo":117.5,"hi":120.5},
{"s":"Rank 2","e":45,"t":0.1602,"y":118,"lo":116.5,"hi":119.5},
{"s":"Rank 2","e":46,"t":0.1632,"y":117,"lo":115.5,"hi":118.5},
{"s":"Rank 2","e":47,"t":0.1663,"y":117.5,"lo":116,"hi":119},
{"s":"Rank 2","e":48,"t":0.1694,"y":115,"lo":113.5,"hi":116.5},
{"s":"Rank 2","e":49,"t":0.1724,"y":114,"lo":112.5,"hi":115.5},
{"s":"Rank 2","e":50,"t":0.1755,"y":114,"lo":112.5,"hi":115.5},
{"s":"Rank 2","e":51,"t":0.1786,"y":116,"lo":113,"hi":118},
{"s":"Rank 2","e":52,"t":0.1816,"y":112,"lo":110.5,"hi":113.5},
{"s":"Rank 2","e":53,"t":0.1847,"y":112,"lo":110.5,"hi":113.5},
{"s":"Rank 2","e":54,"t":0.1878,"y":113,"lo":111.5,"hi":114.5},
{"s":"Rank 2","e":55,"t":0.1909,"y":111.5,"lo":110,"hi":113},
{"s":"Rank 2","e":56,"t":0.1939,"y":111,"lo":109.5,"hi":112.5},
{"s":"Rank 2","e":57,"t":0.197,"y":112,"lo":110.5,"hi":113.5},
{"s":"Rank 2","e":58,"t":0.2001,"y":113,"lo":111,"hi":115},
{"s":"Rank 2","e":59,"t":0.2031,"y":109,"lo":107.5,"hi":110.5},
{"s":"Rank 2","e":60,"t":0.2062,"y":108.5,"lo":107,"hi":110},
{"s":"Rank 2","e":61,"t":0.2093,"y":97,"lo":96,"hi":98},
{"s":"Rank 2","e":62,"t":0.2123,"y":96,"lo":95.3,"hi":96.7},
{"s":"Rank 2","e":64,"t":0.2185,"y":95.3,"lo":94.7,"hi":95.9},
{"s":"Rank 2","e":70,"t":0.2369,"y":94.4,"lo":93.9,"hi":94.9},
{"s":"Rank 2","e":80,"t":0.2676,"y":93.8,"lo":93.3,"hi":94.3},
{"s":"Rank 2","e":90,"t":0.2983,"y":93.2,"lo":92.7,"hi":93.7},
{"s":"Rank 4","e":11,"t":0.0551,"y":305,"lo":305,"hi":305},
{"s":"Rank 4","e":12,"t":0.0579,"y":275,"lo":270,"hi":280},
{"s":"Rank 4","e":13,"t":0.0608,"y":256,"lo":252,"hi":260},
{"s":"Rank 4","e":14,"t":0.0636,"y":236,"lo":232,"hi":240},
{"s":"Rank 4","e":15,"t":0.0665,"y":222,"lo":218,"hi":226},
{"s":"Rank 4","e":16,"t":0.0693,"y":208,"lo":205,"hi":211},
{"s":"Rank 4","e":17,"t":0.0722,"y":200,"lo":197,"hi":203},
{"s":"Rank 4","e":18,"t":0.075,"y":195,"lo":192,"hi":198},
{"s":"Rank 4","e":19,"t":0.0779,"y":186,"lo":183,"hi":189},
{"s":"Rank 4","e":20,"t":0.0807,"y":176,"lo":173,"hi":179},
{"s":"Rank 4","e":21,"t":0.0836,"y":170,"lo":167,"hi":173},
{"s":"Rank 4","e":22,"t":0.0864,"y":168,"lo":165,"hi":171},
{"s":"Rank 4","e":23,"t":0.0893,"y":156,"lo":153,"hi":159},
{"s":"Rank 4","e":24,"t":0.0921,"y":153,"lo":150.5,"hi":155.5},
{"s":"Rank 4","e":25,"t":0.095,"y":151,"lo":148.5,"hi":153.5},
{"s":"Rank 4","e":26,"t":0.0978,"y":148,"lo":145.5,"hi":150.5},
{"s":"Rank 4","e":27,"t":0.1007,"y":143,"lo":141,"hi":145},
{"s":"Rank 4","e":28,"t":0.1035,"y":133,"lo":131,"hi":135},
{"s":"Rank 4","e":29,"t":0.1064,"y":133,"lo":131,"hi":135},
{"s":"Rank 4","e":30,"t":0.1092,"y":129,"lo":127,"hi":131},
{"s":"Rank 4","e":31,"t":0.1121,"y":125,"lo":123.5,"hi":126.5},
{"s":"Rank 4","e":32,"t":0.1149,"y":124,"lo":122.5,"hi":125.5},
{"s":"Rank 4","e":33,"t":0.1178,"y":122.5,"lo":121,"hi":124},
{"s":"Rank 4","e":34,"t":0.1206,"y":120.5,"lo":119,"hi":122},
{"s":"Rank 4","e":35,"t":0.1235,"y":119.5,"lo":118,"hi":121},
{"s":"Rank 4","e":36,"t":0.1263,"y":119,"lo":117.5,"hi":120.5},
{"s":"Rank 4","e":37,"t":0.1292,"y":119,"lo":117.5,"hi":120.5},
{"s":"Rank 4","e":38,"t":0.132,"y":114,"lo":112.5,"hi":115.5},
{"s":"Rank 4","e":39,"t":0.1349,"y":112.5,"lo":111,"hi":114},
{"s":"Rank 4","e":40,"t":0.1377,"y":111.5,"lo":110,"hi":113},
{"s":"Rank 4","e":41,"t":0.1406,"y":111,"lo":109.5,"hi":112.5},
{"s":"Rank 4","e":42,"t":0.1434,"y":110,"lo":108.5,"hi":111.5},
{"s":"Rank 4","e":43,"t":0.1463,"y":109,"lo":107.5,"hi":110.5},
{"s":"Rank 4","e":44,"t":0.1491,"y":108,"lo":106.5,"hi":109.5},
{"s":"Rank 4","e":45,"t":0.152,"y":108.5,"lo":107,"hi":110},
{"s":"Rank 4","e":46,"t":0.1548,"y":109.5,"lo":108,"hi":111},
{"s":"Rank 4","e":47,"t":0.1577,"y":107,"lo":105.5,"hi":108.5},
{"s":"Rank 4","e":48,"t":0.1605,"y":105.5,"lo":104,"hi":107},
{"s":"Rank 4","e":49,"t":0.1634,"y":105,"lo":103.5,"hi":106.5},
{"s":"Rank 4","e":50,"t":0.1662,"y":106,"lo":104.5,"hi":107.5},
{"s":"Rank 4","e":51,"t":0.1691,"y":110,"lo":108,"hi":112},
{"s":"Rank 4","e":52,"t":0.1719,"y":104.5,"lo":103,"hi":106},
{"s":"Rank 4","e":53,"t":0.1748,"y":103.5,"lo":102,"hi":105},
{"s":"Rank 4","e":54,"t":0.1776,"y":103,"lo":101.5,"hi":104.5},
{"s":"Rank 4","e":55,"t":0.1805,"y":101.5,"lo":100,"hi":103},
{"s":"Rank 4","e":56,"t":0.1833,"y":101,"lo":99.5,"hi":102.5},
{"s":"Rank 4","e":57,"t":0.1862,"y":102,"lo":100.5,"hi":103.5},
{"s":"Rank 4","e":58,"t":0.189,"y":102.5,"lo":101,"hi":104},
{"s":"Rank 4","e":59,"t":0.1919,"y":101,"lo":99.5,"hi":102.5},
{"s":"Rank 4","e":60,"t":0.1947,"y":105,"lo":103,"hi":107},
{"s":"Rank 4","e":61,"t":0.1976,"y":92.5,"lo":91.8,"hi":93.2},
{"s":"Rank 4","e":62,"t":0.2004,"y":92,"lo":91.4,"hi":92.6},
{"s":"Rank 4","e":65,"t":0.209,"y":91.6,"lo":91.1,"hi":92.1},
{"s":"Rank 4","e":70,"t":0.2232,"y":91.4,"lo":90.9,"hi":91.9},
{"s":"Rank 4","e":80,"t":0.2517,"y":91.2,"lo":90.7,"hi":91.7},
{"s":"Rank 4","e":90,"t":0.2802,"y":91,"lo":90.5,"hi":91.5},
{"s":"SGD","e":11,"t":0.0948,"y":310,"lo":310,"hi":310},
{"s":"SGD","e":12,"t":0.1008,"y":280,"lo":272,"hi":288},
{"s":"SGD","e":13,"t":0.1069,"y":264,"lo":258,"hi":270},
{"s":"SGD","e":14,"t":0.113,"y":248,"lo":242,"hi":256},
{"s":"SGD","e":15,"t":0.1191,"y":232,"lo":225,"hi":245},
{"s":"SGD","e":16,"t":0.1251,"y":223,"lo":212,"hi":238},
{"s":"SGD","e":17,"t":0.1312,"y":218,"lo":200,"hi":236},
{"s":"SGD","e":18,"t":0.1373,"y":209,"lo":196,"hi":224},
{"s":"SGD","e":19,"t":0.1433,"y":197,"lo":190,"hi":206},
{"s":"SGD","e":20,"t":0.1494,"y":184,"lo":180,"hi":190},
{"s":"SGD","e":21,"t":0.1555,"y":175,"lo":172,"hi":179},
{"s":"SGD","e":22,"t":0.1615,"y":168,"lo":165,"hi":171},
{"s":"SGD","e":23,"t":0.1676,"y":158,"lo":155,"hi":162},
{"s":"SGD","e":24,"t":0.1737,"y":142,"lo":139,"hi":148},
{"s":"SGD","e":25,"t":0.1798,"y":146,"lo":142,"hi":152},
{"s":"SGD","e":26,"t":0.1858,"y":143,"lo":139,"hi":148},
{"s":"SGD","e":27,"t":0.1919,"y":139,"lo":136,"hi":142},
{"s":"SGD","e":28,"t":0.198,"y":134,"lo":131,"hi":137},
{"s":"SGD","e":29,"t":0.204,"y":129,"lo":126.5,"hi":132},
{"s":"SGD","e":30,"t":0.2101,"y":134,"lo":129,"hi":141},
{"s":"SGD","e":31,"t":0.2162,"y":122,"lo":120,"hi":124},
{"s":"SGD","e":32,"t":0.2222,"y":119.5,"lo":117.5,"hi":121.5},
{"s":"SGD","e":33,"t":0.2283,"y":118.5,"lo":116.5,"hi":120.5},
{"s":"SGD","e":34,"t":0.2344,"y":118,"lo":116,"hi":120},
{"s":"SGD","e":35,"t":0.2405,"y":115,"lo":113,"hi":117},
{"s":"SGD","e":36,"t":0.2465,"y":113,"lo":111,"hi":115},
{"s":"SGD","e":37,"t":0.2526,"y":122,"lo":113,"hi":134},
{"s":"SGD","e":38,"t":0.2587,"y":112,"lo":110,"hi":114},
{"s":"SGD","e":39,"t":0.2647,"y":110,"lo":108.5,"hi":111.5},
{"s":"SGD","e":40,"t":0.2708,"y":108.5,"lo":107,"hi":110},
{"s":"SGD","e":41,"t":0.2769,"y":107.5,"lo":106,"hi":109},
{"s":"SGD","e":42,"t":0.2829,"y":106.5,"lo":105,"hi":108},
{"s":"SGD","e":43,"t":0.289,"y":105.5,"lo":104,"hi":107},
{"s":"SGD","e":44,"t":0.2951,"y":104.5,"lo":103,"hi":106},
{"s":"SGD","e":45,"t":0.3012,"y":103,"lo":101.5,"hi":104.5},
{"s":"SGD","e":46,"t":0.3072,"y":102.5,"lo":101,"hi":104},
{"s":"SGD","e":47,"t":0.3133,"y":104,"lo":102.5,"hi":105.5},
{"s":"SGD","e":48,"t":0.3194,"y":101.5,"lo":100,"hi":103},
{"s":"SGD","e":49,"t":0.3254,"y":101,"lo":99.5,"hi":102.5},
{"s":"SGD","e":50,"t":0.3315,"y":101,"lo":99.5,"hi":102.5},
{"s":"SGD","e":51,"t":0.3376,"y":100,"lo":98.7,"hi":101.3},
{"s":"SGD","e":52,"t":0.3436,"y":100,"lo":98.7,"hi":101.3},
{"s":"SGD","e":53,"t":0.3497,"y":100,"lo":98.7,"hi":101.3},
{"s":"SGD","e":54,"t":0.3558,"y":99,"lo":97.8,"hi":100.2},
{"s":"SGD","e":55,"t":0.3619,"y":98.5,"lo":97.3,"hi":99.7},
{"s":"SGD","e":56,"t":0.3679,"y":98.5,"lo":97.3,"hi":99.7},
{"s":"SGD","e":57,"t":0.374,"y":98,"lo":96.8,"hi":99.2},
{"s":"SGD","e":58,"t":0.3801,"y":98,"lo":96.8,"hi":99.2},
{"s":"SGD","e":59,"t":0.3861,"y":98,"lo":96.8,"hi":99.2},
{"s":"SGD","e":60,"t":0.3922,"y":98,"lo":96.8,"hi":99.2},
{"s":"SGD","e":61,"t":0.3983,"y":93,"lo":92.2,"hi":93.8},
{"s":"SGD","e":62,"t":0.4043,"y":92.3,"lo":91.7,"hi":92.9},
{"s":"SGD","e":65,"t":0.4226,"y":92,"lo":91.4,"hi":92.6},
{"s":"SGD","e":70,"t":0.4529,"y":91.8,"lo":91.3,"hi":92.3},
{"s":"SGD","e":80,"t":0.5136,"y":91.7,"lo":91.2,"hi":92.2},
{"s":"SGD","e":90,"t":0.5743,"y":91.6,"lo":91.1,"hi":92.1}
]
},
"columns": 2,
"spacing": {"row": 118, "column": 100},
"bounds": "flush",
"resolve": {"scale": {"color": "independent"}, "legend": {"color": "independent"}},
"concat": [
  {
   "width": 432, "height": 277,
   "title": {"text": "Image classification on CIFAR10", "offset": 10},
   "data": {"name": "acc"},
   "encoding": {"x": {"field": "t", "type": "quantitative", "scale": {"domain": [-1.5, 47.5], "nice": false, "zero": false}, "axis": {"title": "Training time", "values": [0, 15, 30, 37, 45], "labelExpr": "datum.value == 0 ? '0' : datum.value + 'm'", "labelPadding": 15, "titlePadding": 9}}},
   "layer": [
    {"mark": {"type": "area", "clip": true, "opacity": 0.3}, "encoding": {"y": {"field": "lo", "type": "quantitative", "scale": {"domain": [85, 96], "nice": false, "zero": false}, "axis": {"title": "Test accuracy", "values": [85, 90, 93.6, 94.4], "format": ".1f", "labelPadding": 13, "titlePadding": 9}}, "y2": {"field": "hi"}, "fill": {"field": "s", "type": "nominal", "scale": {"domain": ["SGD", "Rank 4", "Rank 2", "Rank 1"], "range": ["#984ea3", "#4daf4a", "#377eb8", "#e41a1c"]}, "legend": null}}},
    {"mark": {"type": "line", "clip": true, "strokeWidth": 2.7}, "encoding": {"y": {"field": "y", "type": "quantitative", "scale": {"domain": [85, 96], "nice": false, "zero": false}, "axis": {"title": "Test accuracy", "values": [85, 90, 93.6, 94.4], "format": ".1f", "labelPadding": 13, "titlePadding": 9}}, "color": {"field": "s", "type": "nominal", "scale": {"domain": ["Rank 1", "Rank 2", "Rank 4", "SGD"], "range": ["#e41a1c", "#377eb8", "#4daf4a", "#984ea3"]}, "legend": {"orient": "top-left", "title": null}}}}
   ]
  },
  {
   "width": 431, "height": 277,
   "title": {"text": "Language modeling with WIKITEXT-2", "offset": 1},
   "data": {"name": "ppl"},
   "encoding": {"x": {"field": "t", "type": "quantitative", "scale": {"domain": [0, 0.6], "nice": false, "zero": false}, "axis": {"title": "Training time (hours)", "values": [0, 0.1, 0.2, 0.3, 0.4, 0.5, 0.6], "format": ".1f", "labelFont": "Liberation Serif", "labelFontSize": 18, "labelPadding": 14, "titlePadding": 9}}},
   "layer": [
    {"mark": {"type": "area", "clip": true, "opacity": 0.35}, "encoding": {"y": {"field": "lo", "type": "quantitative", "scale": {"domain": [50, 300], "nice": false, "zero": false}, "axis": {"title": "Test perplexity", "values": [50, 100, 150, 200, 250, 300], "labelFont": "Liberation Serif", "labelFontSize": 18, "labelPadding": 18, "titlePadding": 8}}, "y2": {"field": "hi"}, "fill": {"field": "s", "type": "nominal", "scale": {"domain": ["SGD", "Rank 4", "Rank 2", "Rank 1"], "range": ["#984ea3", "#4daf4a", "#377eb8", "#e41a1c"]}, "legend": null}}},
    {"mark": {"type": "line", "clip": true, "strokeWidth": 2.7}, "encoding": {"y": {"field": "y", "type": "quantitative", "scale": {"domain": [50, 300], "nice": false, "zero": false}, "axis": {"title": "Test perplexity", "values": [50, 100, 150, 200, 250, 300], "labelFont": "Liberation Serif", "labelFontSize": 18, "labelPadding": 18, "titlePadding": 8}}, "color": {"field": "s", "type": "nominal", "scale": {"domain": ["Rank 1", "Rank 2", "Rank 4", "SGD"], "range": ["#e41a1c", "#377eb8", "#4daf4a", "#984ea3"]}, "legend": {"orient": "top-right", "title": null}}}}
   ]
  },
  {
   "width": 432, "height": 276,
   "title": {"text": "Image classification on CIFAR10", "offset": 10},
   "data": {"name": "acc"},
   "encoding": {"x": {"field": "e", "type": "quantitative", "scale": {"domain": [-15, 315], "nice": false, "zero": false}, "axis": {"title": "Epochs", "values": [0, 150, 250, 300], "labelFont": "Liberation Serif", "labelFontSize": 18, "labelPadding": 14, "titlePadding": 9}}},
   "layer": [
    {"mark": {"type": "area", "clip": true, "opacity": 0.3}, "encoding": {"y": {"field": "lo", "type": "quantitative", "scale": {"domain": [85, 96], "nice": false, "zero": false}, "axis": {"title": "Test accuracy", "values": [85, 90, 93.6, 94.4], "format": ".1f", "labelPadding": 13, "titlePadding": 9}}, "y2": {"field": "hi"}, "fill": {"field": "s", "type": "nominal", "scale": {"domain": ["SGD", "Rank 4", "Rank 2", "Rank 1"], "range": ["#984ea3", "#4daf4a", "#377eb8", "#e41a1c"]}, "legend": null}}},
    {"mark": {"type": "line", "clip": true, "strokeWidth": 2.7}, "encoding": {"y": {"field": "y", "type": "quantitative", "scale": {"domain": [85, 96], "nice": false, "zero": false}, "axis": {"title": "Test accuracy", "values": [85, 90, 93.6, 94.4], "format": ".1f", "labelPadding": 13, "titlePadding": 9}}, "color": {"field": "s", "type": "nominal", "scale": {"domain": ["Rank 1", "Rank 2", "Rank 4", "SGD"], "range": ["#e41a1c", "#377eb8", "#4daf4a", "#984ea3"]}, "legend": {"orient": "top-left", "title": null}}}}
   ]
  },
  {
   "width": 437, "height": 280,
   "title": {"text": "Language modeling with WIKITEXT-2", "offset": 1},
   "data": {"name": "ppl"},
   "encoding": {"x": {"field": "e", "type": "quantitative", "scale": {"domain": [-2.74, 94.67], "nice": false, "zero": false}, "axis": {"title": "Epochs", "values": [0, 60, 80, 90], "labelFont": "Liberation Serif", "labelFontSize": 18, "labelPadding": 14, "titlePadding": 9}}},
   "layer": [
    {"mark": {"type": "area", "clip": true, "opacity": 0.35}, "encoding": {"y": {"field": "lo", "type": "quantitative", "scale": {"domain": [50, 300], "nice": false, "zero": false}, "axis": {"title": "Test perplexity", "values": [50, 100, 150, 200, 250, 300], "labelFont": "Liberation Serif", "labelFontSize": 18, "labelPadding": 14, "titlePadding": 8}}, "y2": {"field": "hi"}, "fill": {"field": "s", "type": "nominal", "scale": {"domain": ["SGD", "Rank 4", "Rank 2", "Rank 1"], "range": ["#984ea3", "#4daf4a", "#377eb8", "#e41a1c"]}, "legend": null}}},
    {"mark": {"type": "line", "clip": true, "strokeWidth": 2.7}, "encoding": {"y": {"field": "y", "type": "quantitative", "scale": {"domain": [50, 300], "nice": false, "zero": false}, "axis": {"title": "Test perplexity", "values": [50, 100, 150, 200, 250, 300], "labelFont": "Liberation Serif", "labelFontSize": 18, "labelPadding": 14, "titlePadding": 8}}, "color": {"field": "s", "type": "nominal", "scale": {"domain": ["Rank 1", "Rank 2", "Rank 4", "SGD"], "range": ["#e41a1c", "#377eb8", "#4daf4a", "#984ea3"]}, "legend": {"orient": "top-right", "title": null}}}}
   ]
  }
]
}
